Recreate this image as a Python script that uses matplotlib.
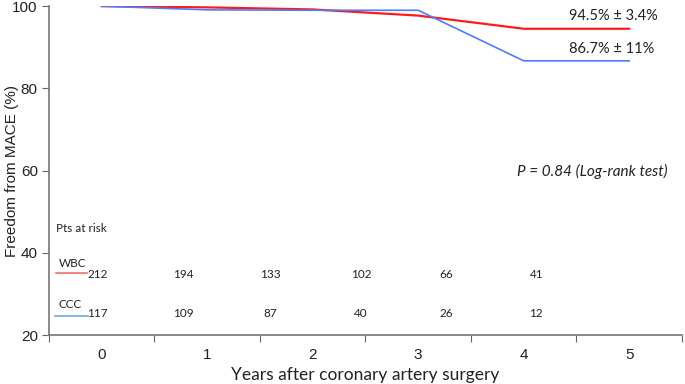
import matplotlib.pyplot as plt
from matplotlib.ticker import FixedLocator, NullFormatter

years = [0, 1, 2, 3, 4, 5]
wbc_free = [100, 99.7, 99.2, 97.7, 94.5, 94.5]
ccc_free = [100, 99.1, 99.0, 99.0, 86.7, 86.7]
wbc_risk = [212, 194, 133, 102, 66, 41]
ccc_risk = [117, 109, 87, 40, 26, 12]
wbc_label = "94.5% \u00b1 3.4%"
ccc_label = "86.7% \u00b1 11%"

fig = plt.figure(figsize=(6.85, 3.84), dpi=100)
ax = fig.add_axes([0.0715, 0.1276, 0.924, 0.8564])

ax.plot(years, wbc_free, color="#ff1a1a", linewidth=1.6, zorder=3)
ax.plot(years, ccc_free, color="#4a7dff", linewidth=1.2, zorder=4)

ax.set_xlim(-0.5, 5.5)
ax.set_ylim(20, 100)
ax.set_yticks([20, 40, 60, 80, 100])

# category style x axis: ticks on boundaries, labels at centres
ax.xaxis.set_major_locator(FixedLocator([-0.5, 0.5, 1.5, 2.5, 3.5, 4.5, 5.5]))
ax.xaxis.set_major_formatter(NullFormatter())
ax.xaxis.set_minor_locator(FixedLocator(years))
ax.set_xticklabels([str(y) for y in years], minor=True)
ax.tick_params(axis="x", which="minor", length=0, pad=9,
               labelsize=11, labelcolor="#222222")
ax.tick_params(axis="x", which="major", length=5, color="#666666")
ax.tick_params(axis="y", length=5, pad=3, color="#666666", labelsize=11,
               labelcolor="#222222")
for lab in ax.get_xticklabels(minor=True) + ax.get_yticklabels():
    lab.set_family("Liberation Sans")

for s in ["top", "right"]:
    ax.spines[s].set_visible(False)
for s in ["left", "bottom"]:
    ax.spines[s].set_color("#777777")
    ax.spines[s].set_linewidth(1.2)

ax.set_ylabel("Freedom from MACE (%)", fontsize=11, family="Liberation Sans",
              color="#222222")
ax.yaxis.set_label_coords(-0.047, 0.5)
ax.set_xlabel("Years after coronary artery surgery", fontsize=12.5,
              family="Lato", color="#222222", labelpad=4)

ax.text(4.85, 97.6, wbc_label, fontsize=10.5, family="Lato",
        color="#222222", ha="center", va="center")
ax.text(4.83, 89.6, ccc_label, fontsize=10.5, family="Lato",
        color="#222222", ha="center", va="center")
ax.text(5.36, 59.8, "P = 0.84 (Log-rank test)", fontsize=11, family="Lato",
        style="italic", color="#222222", ha="right", va="center")

# patients at risk table
ax.text(-0.43, 45.8, "Pts at risk", fontsize=8.5, family="Lato",
        color="#222222", va="center")
ax.text(-0.41, 37.3, "WBC", fontsize=8.5, family="Lato", color="#222222",
        va="center")
ax.text(-0.41, 27.4, "CCC", fontsize=8.5, family="Lato", color="#222222",
        va="center")
ax.plot([-0.43, -0.14], [35.0, 35.0], color="#f07070", linewidth=1.2)
ax.plot([-0.44, -0.13], [24.6, 24.6], color="#6fa8dc", linewidth=1.2)

risk_x = [-0.04, 0.77, 1.6, 2.46, 3.27, 4.12]
for x, a, b in zip(risk_x, wbc_risk, ccc_risk):
    ax.text(x, 34.8, str(a), fontsize=8.5, family="Lato", color="#222222",
            ha="center", va="center")
    ax.text(x, 25.3, str(b), fontsize=8.5, family="Lato", color="#222222",
            ha="center", va="center")

fig.savefig("out.png", dpi=100)
